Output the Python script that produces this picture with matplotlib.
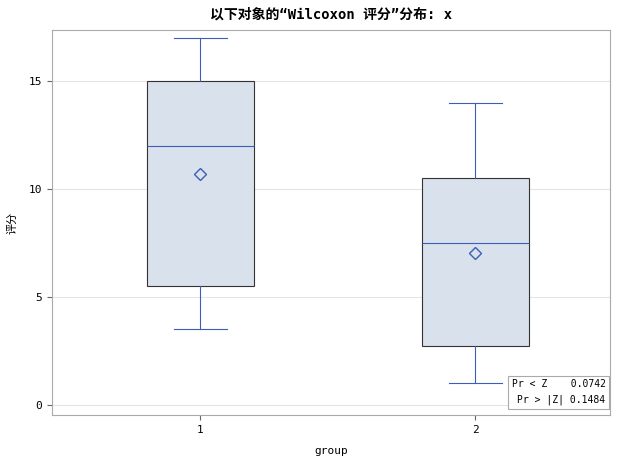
import matplotlib.pyplot as plt

plt.rcParams['font.family'] = ['DejaVu Sans Mono', 'Noto Sans CJK SC']
plt.rcParams['font.size'] = 8

groups = ["1", "2"]
whislo = [3.5, 1.0]
q1 = [5.5, 2.75]
med = [12.0, 7.5]
q3 = [15.0, 10.5]
whishi = [17.0, 14.0]
means = [10.7, 7.05]

stats = [dict(label=g, whislo=a, q1=b, med=c, q3=d, whishi=e, mean=m, fliers=[])
         for g, a, b, c, d, e, m in zip(groups, whislo, q1, med, q3, whishi, means)]

fig = plt.figure(figsize=(6.28, 4.7), dpi=100)
ax = fig.add_axes([52 / 628, 55 / 470, 558 / 628, 385 / 470])
blue = "#3b5eb8"
ax.bxp(stats, positions=[1, 2], widths=0.39, showmeans=True, patch_artist=True,
       boxprops=dict(facecolor="#d9e1ec", edgecolor="#333333", linewidth=0.8),
       medianprops=dict(color=blue, linewidth=0.8),
       whiskerprops=dict(color=blue, linewidth=0.8),
       capprops=dict(color=blue, linewidth=0.8),
       meanprops=dict(marker="D", markerfacecolor="none", markeredgecolor=blue, markersize=6),
       showcaps=True)
ax.set_xlim(0.46, 2.49)
ax.set_ylim(-0.46, 17.36)
ax.set_yticks([0, 5, 10, 15])
ax.yaxis.grid(True, color="#e4e4e4", linewidth=0.8)
ax.set_axisbelow(True)
for s in ax.spines.values():
    s.set_color("#aaaaaa")
ax.tick_params(colors="#666666", labelcolor="black")
ax.set_xlabel("group", labelpad=8)
ax.set_ylabel("评分", labelpad=8)
ax.set_title("以下对象的“Wilcoxon 评分”分布: x", fontweight="bold", fontsize=10, pad=8)
ax.text(0.992, 0.025, "Pr < Z    0.0742\nPr > |Z| 0.1484", transform=ax.transAxes,
        ha="right", va="bottom", fontsize=7, linespacing=1.7,
        bbox=dict(boxstyle="square,pad=0.4", facecolor="white", edgecolor="#aaaaaa", linewidth=0.8))
fig.savefig("out.png", dpi=100)
